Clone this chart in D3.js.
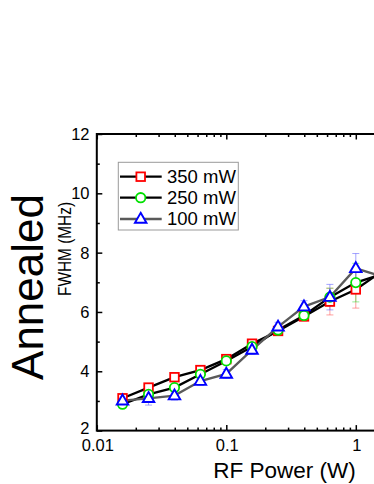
<!DOCTYPE html>
<html><head><meta charset="utf-8">
<script src="https://cdn.jsdelivr.net/npm/d3@7"></script>
<style>body{margin:0;background:#fff;overflow:hidden}svg{display:block}text{font-family:Arial,"Liberation Sans",sans-serif}</style>
</head><body><svg id="c" width="374" height="484"></svg>
<script>
const power = [0.0158, 0.0251, 0.0398, 0.0631, 0.1, 0.158, 0.251, 0.398, 0.631, 1.0, 1.58];
const fwhm350 = [3.09, 3.45, 3.80, 4.04, 4.41, 4.93, 5.36, 5.85, 6.35, 6.76, 7.36];
const err350  = [0.10, 0.10, 0.08, 0.10, 0.10, 0.10, 0.10, 0.15, 0.45, 0.63, 0.30];
const fwhm250 = [2.89, 3.22, 3.45, 3.90, 4.35, 4.83, 5.39, 5.88, 6.50, 6.99, 7.27];
const err250  = [0.10, 0.15, 0.10, 0.10, 0.10, 0.10, 0.10, 0.15, 0.30, 0.65, 0.30];
const fwhm100 = [3.01, 3.09, 3.18, 3.67, 3.91, 4.72, 5.50, 6.18, 6.50, 7.47, 7.20];
const err100  = [0.20, 0.23, 0.15, 0.15, 0.15, 0.15, 0.15, 0.20, 0.43, 0.50, 0.30];
const seriesNames = ["350 mW", "250 mW", "100 mW"];
const xMajor = [0.01, 0.1, 1, 10];
const xLabelVals = [0.01, 0.1, 1];
const xMajorLabels = ["0.01", "0.1", "1"];
const yMajor = [2, 4, 6, 8, 10, 12];
const yMinor = [3, 5, 7, 9, 11];

const svg = d3.select("#c");
const L = 96.8, R = 485.3, T = 134, B = 430.6;
const x = d3.scaleLog().domain([0.01, 10]).range([L, R]);
const y = d3.scaleLinear().domain([2, 12]).range([B, T]);
const xMinor = [];
[0.01, 0.1, 1].forEach(d => { for (let k = 2; k <= 9; k++) xMinor.push(d * k); });

const series = [
  {name: seriesNames[0], v: fwhm350, e: err350, color: "#ff0000", line: "#000", shape: "square", ecol: "rgba(255,80,80,0.55)"},
  {name: seriesNames[1], v: fwhm250, e: err250, color: "#00e000", line: "#000", shape: "circle", ecol: "rgba(60,220,60,0.55)"},
  {name: seriesNames[2], v: fwhm100, e: err100, color: "#0000ff", line: "#5a5a5a", shape: "triangle", ecol: "rgba(90,90,255,0.55)"}
];

function marker(g, shape, color, cx, cy) {
  if (shape === "square") {
    g.append("rect").attr("x", cx - 4.3).attr("y", cy - 4.3).attr("width", 8.6).attr("height", 8.6)
      .attr("fill", "#fff").attr("stroke", color).attr("stroke-width", 1.8);
  } else if (shape === "circle") {
    g.append("circle").attr("cx", cx).attr("cy", cy).attr("r", 4.7)
      .attr("fill", "#fff").attr("stroke", color).attr("stroke-width", 1.8);
  } else {
    const s = 11.5, h = s * Math.sqrt(3) / 2;
    g.append("path").attr("d", `M${cx},${cy - h * 0.62}L${cx + s / 2},${cy + h * 0.38}L${cx - s / 2},${cy + h * 0.38}Z`)
      .attr("fill", "#fff").attr("stroke", color).attr("stroke-width", 1.9).attr("stroke-linejoin", "miter");
  }
}

svg.append("clipPath").attr("id", "clip").append("rect").attr("x", L).attr("y", T).attr("width", R - L).attr("height", B - T);
const plot = svg.append("g").attr("clip-path", "url(#clip)");

const lineGen = d3.line().x((d, i) => x(power[i])).y(d => y(d));
series.forEach(s => {
  plot.append("path").datum(s.v).attr("d", lineGen).attr("fill", "none")
    .attr("stroke", s.line).attr("stroke-width", 2.3);
});
series.forEach(s => {
  s.v.forEach((v, i) => {
    const cx = x(power[i]), y1 = y(v - s.e[i]), y2 = y(v + s.e[i]);
    plot.append("line").attr("x1", cx).attr("x2", cx).attr("y1", y1).attr("y2", y2).attr("stroke", s.ecol).attr("stroke-width", 1);
    [y1, y2].forEach(yy => plot.append("line").attr("x1", cx - 3.5).attr("x2", cx + 3.5).attr("y1", yy).attr("y2", yy).attr("stroke", s.ecol).attr("stroke-width", 1));
  });
});
series.forEach(s => {
  s.v.forEach((v, i) => marker(plot, s.shape, s.color, x(power[i]), y(v)));
});

function ticks(axisFn, scale, vals, size, tr) {
  const g = svg.append("g").attr("transform", tr)
    .call(axisFn(scale).tickValues(vals).tickSize(size).tickFormat(""));
  g.select(".domain").remove();
  g.selectAll(".tick line").attr("stroke", "#000").attr("stroke-width", 1.5);
  return g;
}
ticks(d3.axisBottom, x, xMajor, -5.5, `translate(0,${B})`);
ticks(d3.axisBottom, x, xMinor, -3, `translate(0,${B})`);
ticks(d3.axisTop, x, xMajor, -5.5, `translate(0,${T})`);
ticks(d3.axisTop, x, xMinor, -3, `translate(0,${T})`);
ticks(d3.axisLeft, y, yMajor, -5.5, `translate(${L},0)`);
ticks(d3.axisLeft, y, yMinor, -3, `translate(${L},0)`);

svg.append("rect").attr("x", L).attr("y", T).attr("width", R - L).attr("height", B - T)
  .attr("fill", "none").attr("stroke", "#000").attr("stroke-width", 2);

xLabelVals.forEach((d, i) => {
  svg.append("text").attr("x", x(d) + 1).attr("y", 450.5).attr("text-anchor", "middle")
    .attr("font-size", 16.5).text(xMajorLabels[i]);
});
yMajor.forEach(d => {
  svg.append("text").attr("x", 89.5).attr("y", y(d) + (d === 2 ? 3 : 6)).attr("text-anchor", "end")
    .attr("font-size", 16.5).text(d);
});

svg.append("text").attr("x", 284.5).attr("y", 478).attr("text-anchor", "middle")
  .attr("font-size", 22.5).text("RF Power (W)");
svg.append("text").attr("transform", "translate(70.5,249) rotate(-90) scale(0.88,1)").attr("text-anchor", "middle")
  .attr("font-size", 17.5).text("FWHM (MHz)");
svg.append("text").attr("transform", "translate(43,287) rotate(-90)").attr("text-anchor", "middle")
  .attr("font-size", 44).text("Annealed");

const lg = svg.append("g");
lg.append("rect").attr("x", 118.3).attr("y", 162.3).attr("width", 120).attr("height", 67.7)
  .attr("fill", "#fff").attr("stroke", "#9a9a9a").attr("stroke-width", 1);
const ly = [176.7, 197.7, 219];
series.forEach((s, i) => {
  lg.append("line").attr("x1", 120).attr("x2", 161.7).attr("y1", ly[i]).attr("y2", ly[i])
    .attr("stroke", s.line).attr("stroke-width", 2.3);
  marker(lg, s.shape, s.color, 140.7, ly[i]);
  lg.append("text").attr("x", 167).attr("y", ly[i] + 6.3).attr("font-size", 18.5).text(s.name);
});
</script></body></html>
